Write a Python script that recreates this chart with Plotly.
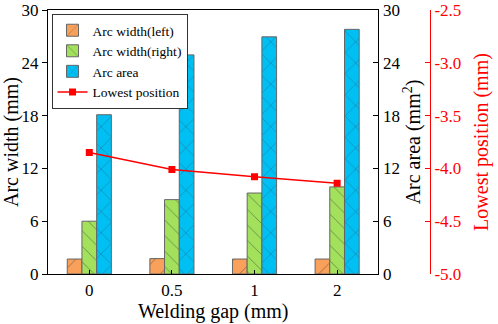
import plotly.graph_objects as go

gaps = ["0", "0.5", "1", "2"]
width_left = [1.7, 1.75, 1.7, 1.7]
width_right = [6.0, 8.45, 9.2, 9.9]
arc_area = [18.1, 24.9, 26.95, 27.8]
lowest_pos = [-3.85, -4.01, -4.08, -4.14]
pos_ticks = [-5.0, -4.5, -4.0, -3.5, -3.0, -2.5]
pos_tick_labels = ["-5.0", "-4.5", "-4.0", "-3.5", "-3.0", "-2.5"]

FONT = "Liberation Serif"
bw = 0.178

fig = go.Figure()
fig.add_trace(go.Bar(
    x=gaps, y=width_left, name="Arc width(left)", yaxis="y",
    width=bw, offset=-1.5 * bw,
    marker=dict(color="#F9A05A", line=dict(color="#666666", width=1),
                pattern=dict(shape="/", size=14, solidity=0.07, fgcolor="#7a5a40", fgopacity=0.7)),
))
fig.add_trace(go.Bar(
    x=gaps, y=width_right, name="Arc width(right)", yaxis="y",
    width=bw, offset=-0.5 * bw,
    marker=dict(color="#A3E05B", line=dict(color="#666666", width=1),
                pattern=dict(shape="\\", size=11, solidity=0.08, fgcolor="#4a6a40", fgopacity=0.7)),
))
fig.add_trace(go.Bar(
    x=gaps, y=arc_area, name="Arc area", yaxis="y2",
    width=bw, offset=0.5 * bw,
    marker=dict(color="#00BFF2", line=dict(color="#666666", width=1),
                pattern=dict(shape="x", size=15, solidity=0.07, fgcolor="#2a5a80", fgopacity=0.7)),
))
fig.add_trace(go.Scatter(
    x=gaps, y=lowest_pos, name="Lowest position", yaxis="y3",
    mode="lines+markers",
    line=dict(color="#FF0000", width=1.5),
    marker=dict(symbol="square", size=7, color="#FF0000"),
))

x_end = 0.751
fig.update_layout(
    width=498, height=324,
    margin=dict(l=48, r=10, t=10, b=50),
    paper_bgcolor="white", plot_bgcolor="white",
    font=dict(family=FONT, size=17, color="black"),
    barmode="overlay",
    showlegend=True,
    legend=dict(x=0.008, y=0.985, xanchor="left", yanchor="top",
                bgcolor="white", bordercolor="#333333", borderwidth=1,
                font=dict(family=FONT, size=13.5), tracegroupgap=0,
                itemwidth=30),
    xaxis=dict(domain=[0, x_end], showline=True, linecolor="black", linewidth=1.2,
               mirror=True, ticks="inside", ticklen=4, tickcolor="black",
               showgrid=False, zeroline=False, automargin=False,
               title=dict(text="Welding gap (mm)", font=dict(size=20), standoff=0),
               tickfont=dict(size=17)),
    yaxis=dict(range=[0, 30], dtick=6, showline=True, linecolor="black", linewidth=1.2,
               ticks="outside", ticklen=5, tickcolor="black", showgrid=False, zeroline=False,
               automargin=False, ticklabeloverflow="allow",
               title=dict(text="Arc width (mm)", font=dict(size=20), standoff=2),
               tickfont=dict(size=17)),
    yaxis2=dict(range=[0, 30], dtick=6, overlaying="y", side="right", anchor="x",
                showline=True, linecolor="black", linewidth=1.2, automargin=False,
                ticklabeloverflow="allow",
                ticks="inside", ticklen=5, tickcolor="black", showgrid=False, zeroline=False,
                title=dict(text="Arc area (mm<sup>2</sup>)", font=dict(size=20), standoff=2),
                tickfont=dict(size=17)),
    yaxis3=dict(range=[-5, -2.5], tickmode="array", tickvals=pos_ticks, ticktext=pos_tick_labels,
                overlaying="y", side="right", anchor="free", position=0.868, automargin=False,
                ticklabeloverflow="allow",
                showline=True, linecolor="#FF0000", linewidth=1.2,
                ticks="inside", ticklen=5, tickcolor="#FF0000", showgrid=False, zeroline=False,
                tickfont=dict(size=17, color="#FF0000"),
                title=dict(text="Lowest position (mm)", font=dict(size=20, color="#FF0000"), standoff=13)),
)

fig.write_html("out.html", config={"displayModeBar": False},
               post_script="document.body.style.margin='0';")
